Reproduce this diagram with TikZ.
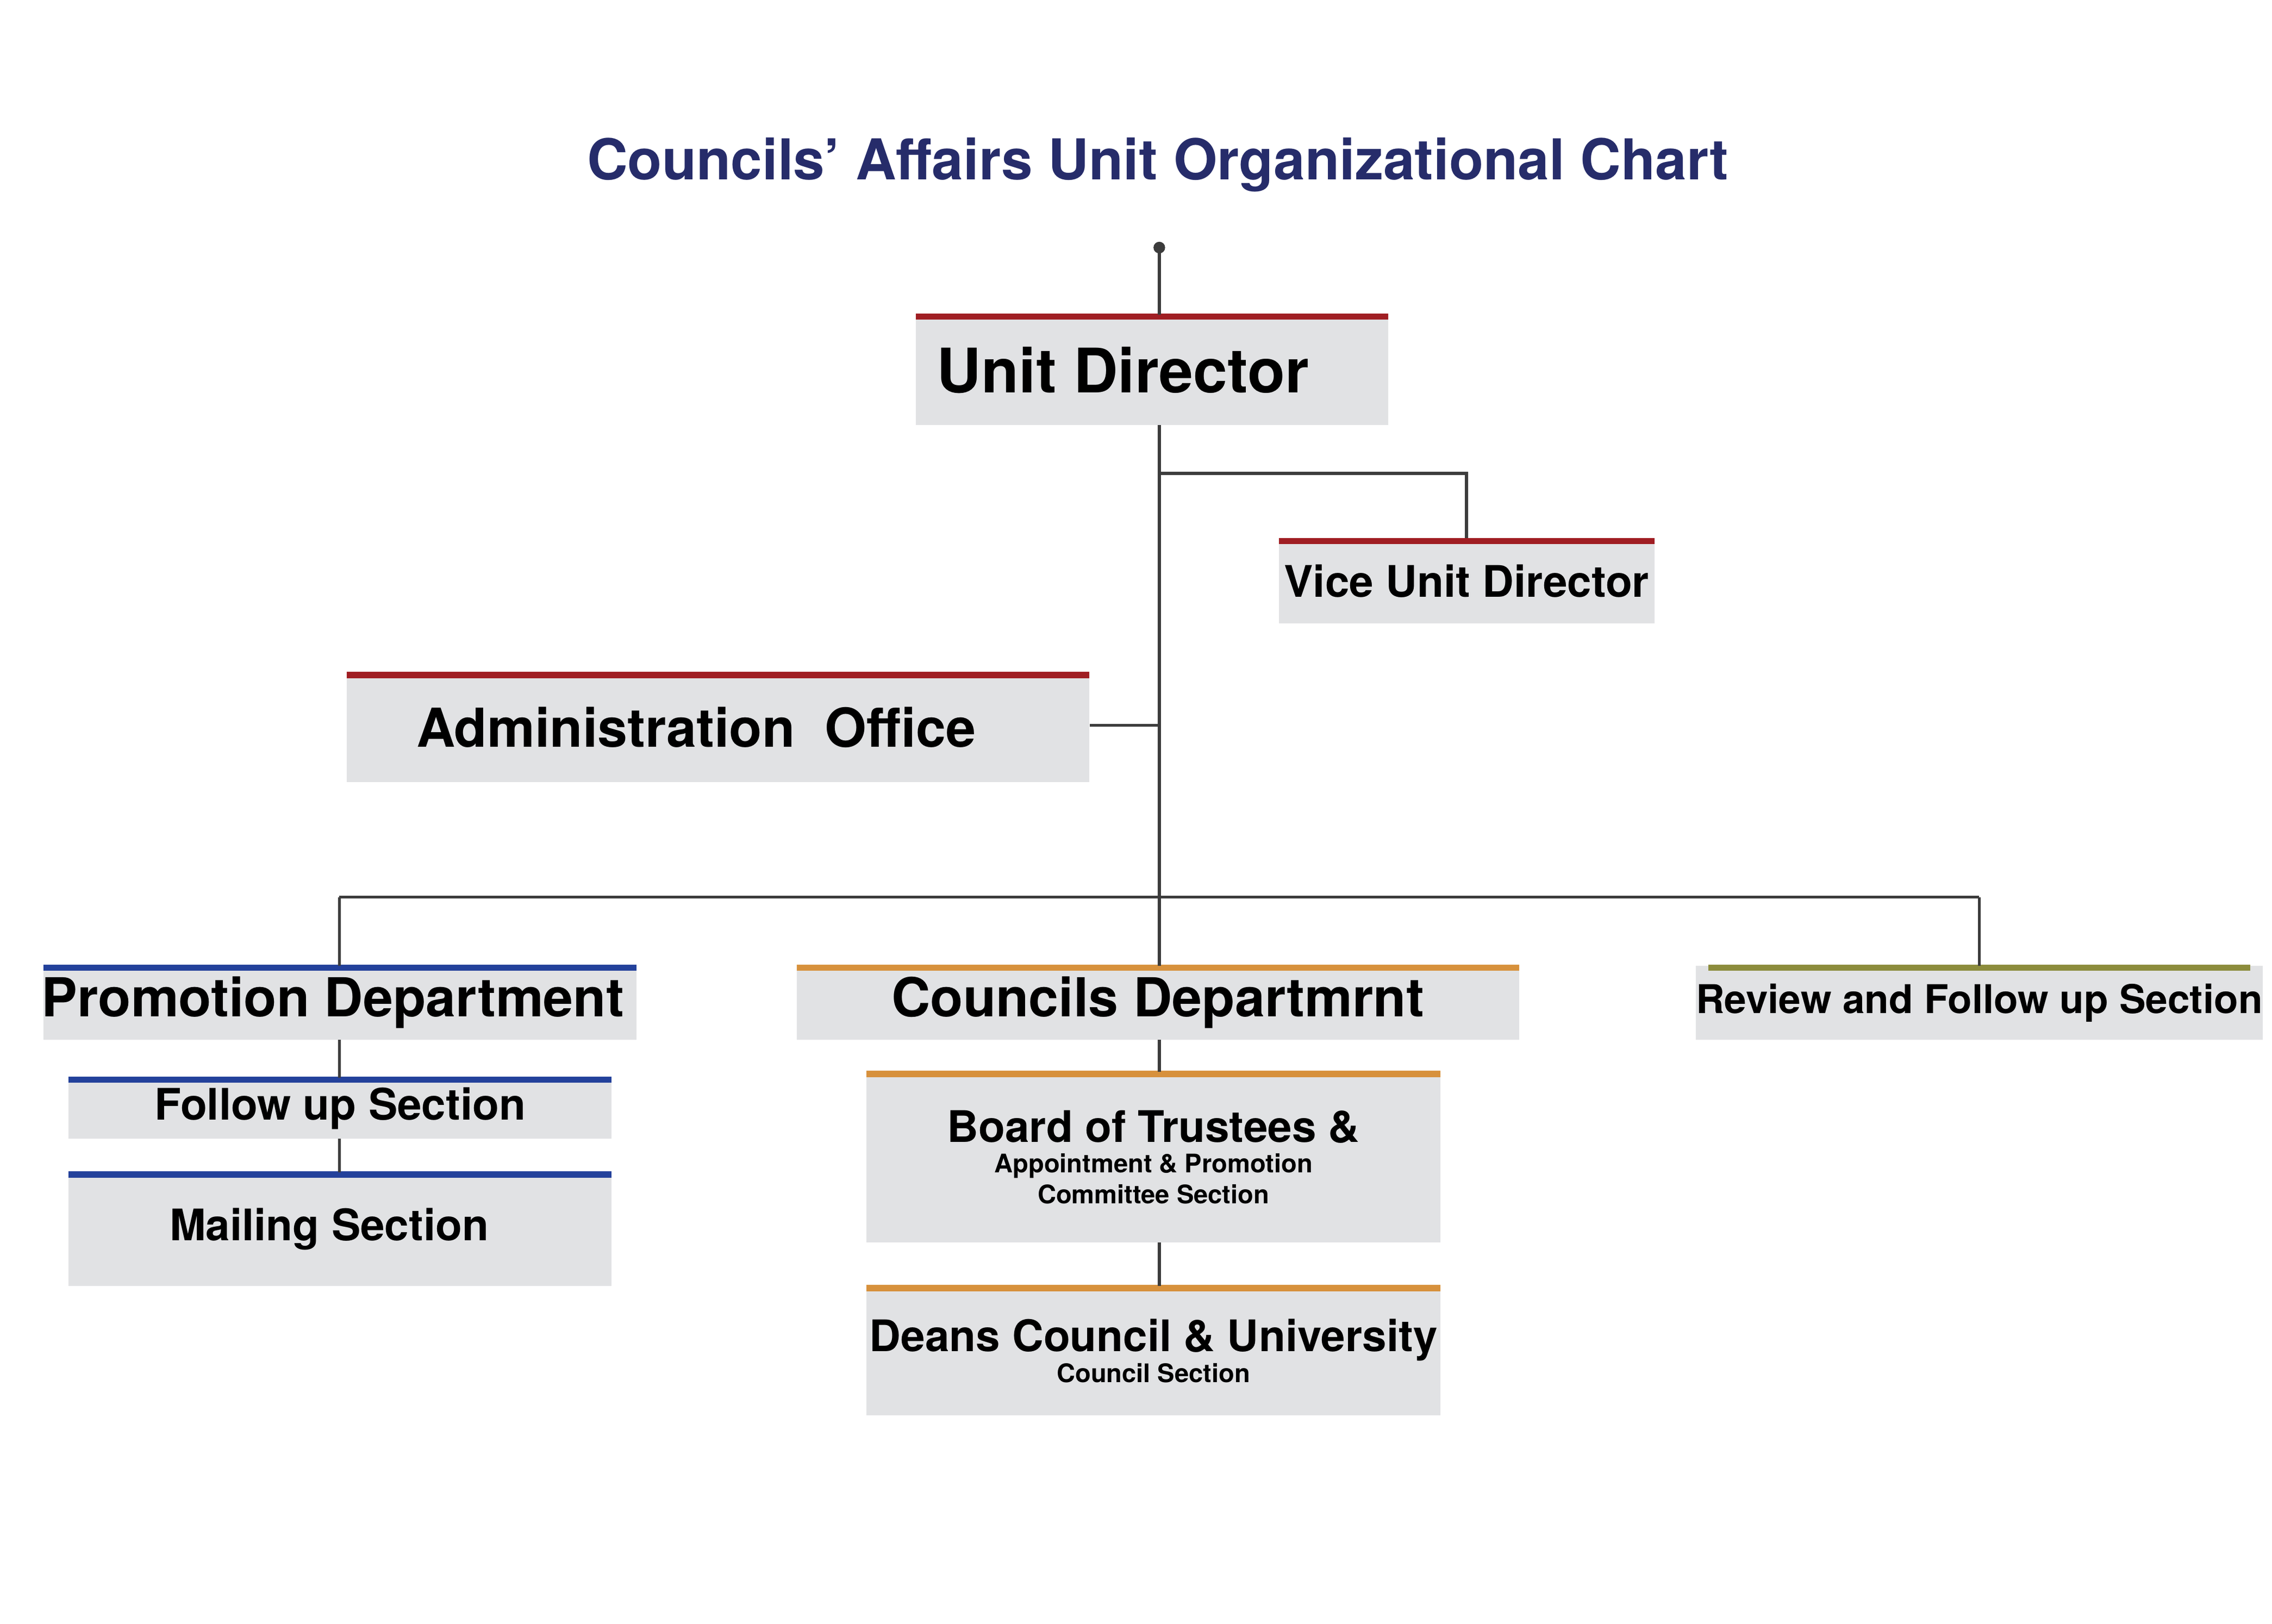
\documentclass[tikz,border=0pt]{standalone}
\usepackage{fontspec}
\setmainfont{TeX Gyre Heros}
\definecolor{boxg}{RGB}{225,226,228}
\definecolor{cred}{RGB}{160,30,35}
\definecolor{cblue}{RGB}{35,65,155}
\definecolor{corange}{RGB}{215,145,60}
\definecolor{colive}{RGB}{140,140,60}
\definecolor{navy}{RGB}{38,44,106}
\definecolor{lin}{RGB}{60,60,60}
\tikzset{box/.style={fill=boxg,inner sep=0pt,align=center,font=\bfseries},
 conn/.style={draw=lin,line width=1.2pt},
 bar/.style={line width=2.4pt}}
\newcommand{\mkbox}[7]{% name, x1,y1,x2,y2, color, text+font
 \node[box,minimum width={(#4-#2)*0.02cm},minimum height={(#5-#3)*0.02cm}] (#1) at ({(#2+#4)/2},{-(#3+#5)/2}) {#7};
 \draw[bar,#6] (#2,-#3-1.5) -- (#4,-#3-1.5);}
\begin{document}
\begin{tikzpicture}[x=0.02cm,y=0.02cm]
\useasboundingbox (0,0) rectangle (1560,-1115);
\node[font=\bfseries\fontsize{22}{26}\selectfont,text=navy] (title) at (795,-113) {Councils' Affairs Unit Organizational Chart};
\mkbox{ud}{629}{216}{953}{292}{cred}{\fontsize{24}{28}\selectfont\hspace*{-0.8cm}Unit Director}
\mkbox{vice}{878}{370}{1136}{428}{cred}{\fontsize{17}{20}\selectfont Vice Unit Director}
\mkbox{adm}{238}{462}{748}{537}{cred}{\fontsize{21}{25}\selectfont\hspace*{-0.6cm}Administration\ \ Office}
\mkbox{prom}{30}{663}{437}{714}{cblue}{\fontsize{21}{25}\selectfont\hspace*{-0.2cm}Promotion Department}
\mkbox{cd}{547}{663}{1043}{714}{corange}{\fontsize{21}{25}\selectfont Councils Departmrnt}
\mkbox{rev}{1173}{663}{1545}{714}{colive}{\fontsize{15.5}{19}\selectfont Review and Follow up Section}
\mkbox{fol}{47}{740}{420}{782}{cblue}{\fontsize{17}{20}\selectfont Follow up Section}
\mkbox{mail}{47}{805}{420}{883}{cblue}{\fontsize{17}{20}\selectfont\hspace*{-0.3cm}Mailing Section}
\mkbox{board}{595}{736}{989}{853}{corange}{\fontsize{17}{25.5}\selectfont Board of Trustees \&\\Appointment \& Promotion\\Committee Section}
\mkbox{deans}{595}{883}{989}{972}{corange}{\fontsize{17}{25.5}\selectfont Deans Council \& University\\Council Section}
\coordinate (dot) at (796,-170);
\fill[lin] (dot) circle (4);
\draw[conn] (dot) -- (796,-216);
\coordinate (j1) at (796,-325);
\coordinate (j2) at (796,-498);
\coordinate (j3) at (796,-616);
\draw[conn] (796,-292) -- (j3);
\draw[conn] (j1) -| (vice.north);
\draw[conn] (adm.east |- j2) -- (j2);
\draw[conn] (233,-616) -- (1359,-616);
\draw[conn] (233,-616) -- (233,-663);
\draw[conn] (j3) -- (796,-663);
\draw[conn] (1359,-616) -- (1359,-663);
\draw[conn] (233,-714) -- (233,-740);
\draw[conn] (233,-782) -- (233,-805);
\draw[conn] (796,-714) -- (796,-736);
\draw[conn] (796,-853) -- (796,-883);
\end{tikzpicture}
\end{document}
